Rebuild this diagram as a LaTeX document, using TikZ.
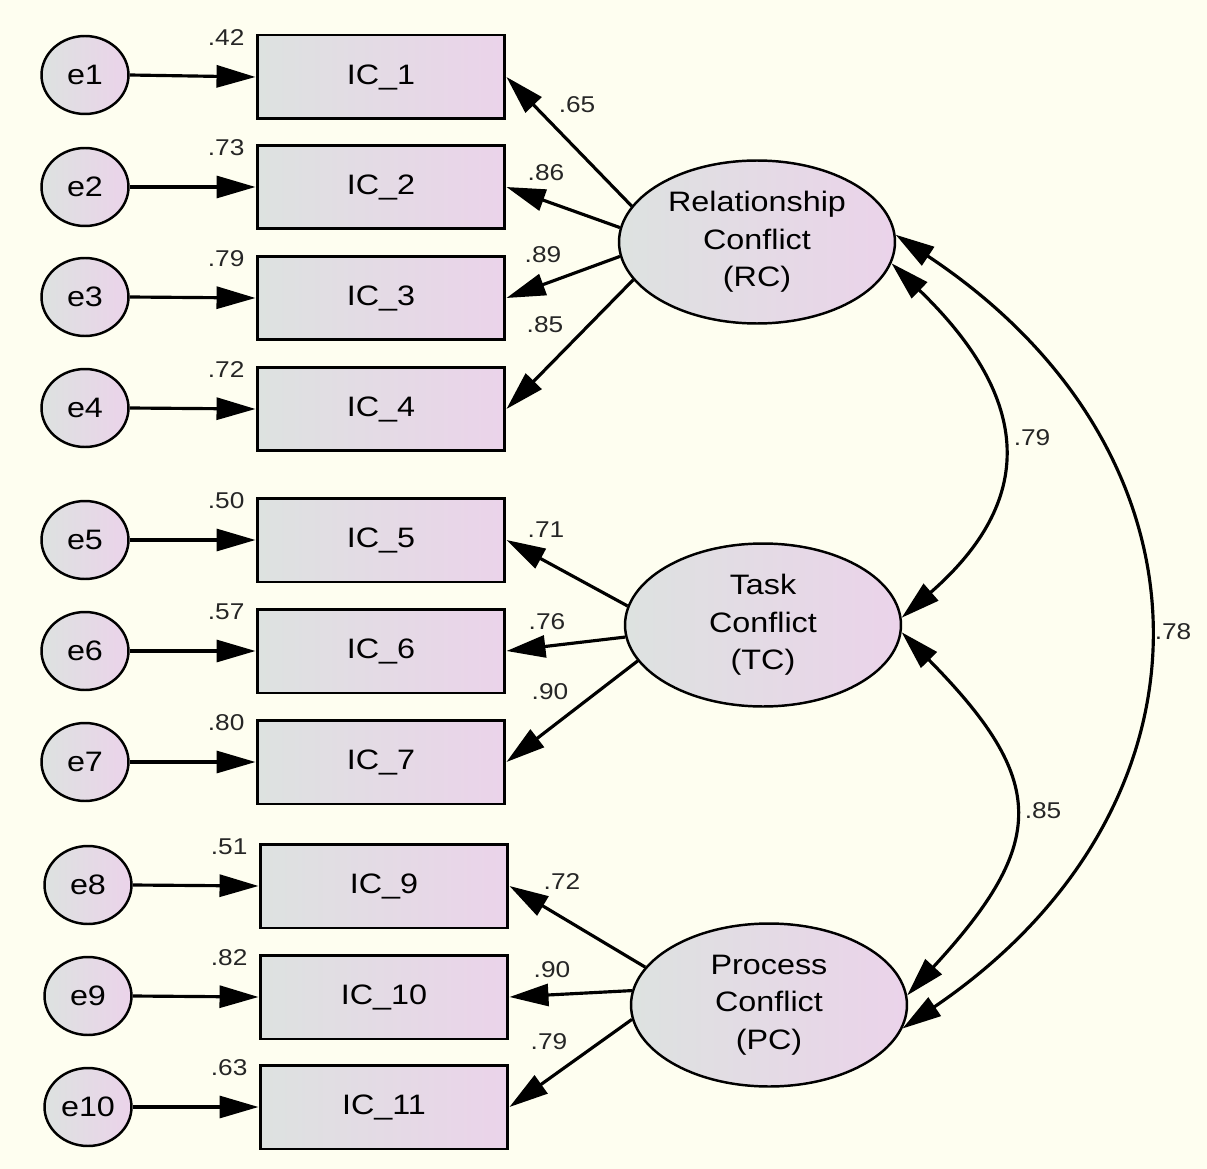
\documentclass[tikz,border=0pt]{standalone}
\usepackage{fontspec}
\setmainfont{Liberation Sans}[FakeStretch=1.15]
\usetikzlibrary{shapes.geometric,arrows.meta}
\definecolor{paper}{HTML}{FEFEF0}
\definecolor{shadeL}{HTML}{DDE2E0}
\definecolor{shadeR}{HTML}{EBD3EA}
\begin{document}
\begin{tikzpicture}[x=0.02cm,y=-0.02cm,
  fill shade/.style={left color=shadeL,right color=shadeR},
  obs/.style={draw,line width=1.7pt,fill shade,minimum width=4.96cm,minimum height=1.68cm,
    inner sep=0pt,font=\fontsize{16}{19}\selectfont},
  err/.style={ellipse,draw,line width=1.4pt,fill shade,minimum width=1.74cm,minimum height=1.56cm,
    inner sep=0pt,font=\fontsize{16}{19}\selectfont},
  lat/.style={ellipse,draw,line width=1.4pt,fill shade,minimum width=5.52cm,minimum height=3.26cm,
    inner sep=0pt,align=center,font=\fontsize{16}{21.3}\selectfont},
  lbl/.style={inner sep=1pt,font=\fontsize{13}{15}\selectfont,text=black!85},
  tip/.tip={Triangle[length=0.78cm,width=0.44cm]},
  path/.style={line width=1.8pt,-tip},
  cov/.style={line width=1.8pt,tip-tip},
]
% canvas
\fill[paper] (0,0) rectangle (1207,1169);
\useasboundingbox (0,0) rectangle (1207,1169);

% observed indicators
\node[obs] (IC1)  at (381,77)   {IC\_1};
\node[obs] (IC2)  at (381,187)  {IC\_2};
\node[obs] (IC3)  at (381,298)  {IC\_3};
\node[obs] (IC4)  at (381,409)  {IC\_4};
\node[obs] (IC5)  at (381,540)  {IC\_5};
\node[obs] (IC6)  at (381,651)  {IC\_6};
\node[obs] (IC7)  at (381,762)  {IC\_7};
\node[obs] (IC9)  at (384,886)  {IC\_9};
\node[obs] (IC10) at (384,997)  {IC\_10};
\node[obs] (IC11) at (384,1107) {IC\_11};

% error terms
\node[err] (e1)  at (85,75)    {e1};
\node[err] (e2)  at (85,187)   {e2};
\node[err] (e3)  at (85,297)   {e3};
\node[err] (e4)  at (85,408)   {e4};
\node[err] (e5)  at (85,540)   {e5};
\node[err] (e6)  at (85,651)   {e6};
\node[err] (e7)  at (85,762)   {e7};
\node[err] (e8)  at (88,885)   {e8};
\node[err] (e9)  at (88,996)   {e9};
\node[err] (e10) at (88,1107)  {e10};

% latent factors
\node[lat] (RC) at (757,242)  {Relationship\\Conflict\\(RC)};
\node[lat] (TC) at (763,625)  {Task\\Conflict\\(TC)};
\node[lat] (PC) at (769,1005) {Process\\Conflict\\(PC)};

% error paths
\foreach \e/\i in {e1/IC1,e2/IC2,e3/IC3,e4/IC4,e5/IC5,e6/IC6,e7/IC7,e8/IC9,e9/IC10,e10/IC11}
  \draw[path] (\e.east) -- (\i.west);

% squared multiple correlations
\foreach \i/\v in {IC1/.42,IC2/.73,IC3/.79,IC4/.72,IC5/.50,IC6/.57,IC7/.80,IC9/.51,IC10/.82,IC11/.63}
  \node[lbl,anchor=east] (r\i) at ([shift={(-9,4)}]\i.north west) {\v};

% factor loadings
\draw[path] (RC.164) -- (IC1.east);
\draw[path] (RC.174) -- (IC2.east);
\draw[path] (RC.186) -- (IC3.east);
\draw[path] (RC.197) -- (IC4.east);
\draw[path] (TC.172) -- (IC5.east);
\draw[path] (TC.185) -- (IC6.east);
\draw[path] (TC.196) -- (IC7.east);
\draw[path] (PC.163) -- (IC9.east);
\draw[path] (PC.174) -- (IC10.east);
\draw[path] (PC.186) -- (IC11.east);

\node[lbl] (l1)  at (577,105)  {.65};
\node[lbl] (l2)  at (546,173)  {.86};
\node[lbl] (l3)  at (543,255)  {.89};
\node[lbl] (l4)  at (545,325)  {.85};
\node[lbl] (l5)  at (546,530)  {.71};
\node[lbl] (l6)  at (547,622)  {.76};
\node[lbl] (l7)  at (550,692)  {.90};
\node[lbl] (l9)  at (562,882)  {.72};
\node[lbl] (l10) at (552,970)  {.90};
\node[lbl] (l11) at (549,1042) {.79};

% factor correlations
\draw[cov] (RC.-9) .. controls +(142,137) and +(134,-117) .. (TC.3);
\draw[cov] (RC.3) .. controls +(333,221) and +(324,-220) .. (PC.-10);
\draw[cov] (TC.-3) .. controls +(146,148) and +(141,-153) .. (PC.4);

\node[lbl] (c1) at (1032,438) {.79};
\node[lbl] (c2) at (1173,632) {.78};
\node[lbl] (c3) at (1043,811) {.85};
\end{tikzpicture}
\end{document}
